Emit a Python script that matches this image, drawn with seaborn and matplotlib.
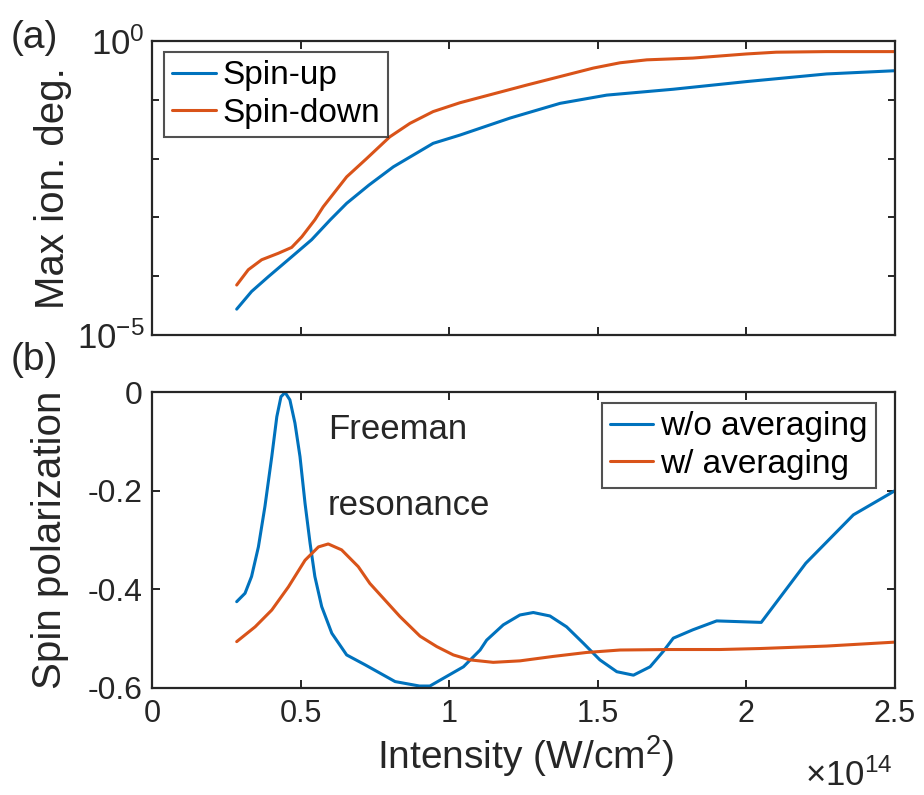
import numpy as np
import pandas as pd
import matplotlib
matplotlib.use("Agg")
import matplotlib.pyplot as plt
import seaborn as sns

# ---- data (intensity in units of 1e14 W/cm^2) ----
up_x = [0.285, 0.335, 0.391, 0.47, 0.537, 0.60, 0.655, 0.73, 0.812, 0.946, 1.036, 1.205,
        1.373, 1.53, 1.754, 2.0, 2.27, 2.5]
up_log = [-4.56, -4.26, -4.01, -3.67, -3.38, -3.04, -2.76, -2.45, -2.14, -1.74, -1.60, -1.31,
          -1.06, -0.92, -0.82, -0.69, -0.56, -0.505]

down_x = [0.285, 0.324, 0.369, 0.425, 0.47, 0.504, 0.548, 0.576, 0.655, 0.722, 0.80, 0.868,
          0.946, 1.036, 1.26, 1.485, 1.575, 1.665, 1.82, 2.0, 2.10, 2.27, 2.5]
down_log = [-4.15, -3.89, -3.72, -3.61, -3.51, -3.33, -3.04, -2.82, -2.31, -2.0, -1.63, -1.40,
            -1.20, -1.05, -0.75, -0.46, -0.37, -0.32, -0.29, -0.22, -0.19, -0.18, -0.18]

wo_x = [0.285, 0.313, 0.335, 0.358, 0.380, 0.403, 0.42, 0.434, 0.448, 0.464, 0.481, 0.498,
        0.515, 0.532, 0.548, 0.571, 0.605, 0.655, 0.717, 0.818, 0.90, 0.935, 0.99, 1.048,
        1.104, 1.126, 1.182, 1.238, 1.283, 1.339, 1.395, 1.451, 1.507, 1.564, 1.62, 1.676,
        1.72, 1.754, 1.82, 1.90, 2.05, 2.20, 2.36, 2.5]
wo_y = [-0.425, -0.408, -0.374, -0.314, -0.232, -0.131, -0.05, -0.0095, -0.001, -0.016,
        -0.063, -0.131, -0.226, -0.307, -0.374, -0.435, -0.489, -0.533, -0.553, -0.587,
        -0.596, -0.596, -0.577, -0.557, -0.523, -0.503, -0.472, -0.452, -0.447, -0.454,
        -0.476, -0.509, -0.543, -0.567, -0.574, -0.557, -0.526, -0.499, -0.482, -0.464,
        -0.467, -0.347, -0.249, -0.200]

w_x = [0.285, 0.347, 0.403, 0.459, 0.515, 0.56, 0.593, 0.638, 0.694, 0.733, 0.834, 0.902,
       0.958, 1.014, 1.07, 1.148, 1.238, 1.35, 1.462, 1.575, 1.743, 1.91, 2.046, 2.27, 2.5]
w_y = [-0.506, -0.476, -0.442, -0.395, -0.341, -0.314, -0.308, -0.320, -0.354, -0.388,
       -0.455, -0.495, -0.516, -0.533, -0.543, -0.548, -0.545, -0.536, -0.528, -0.523,
       -0.522, -0.522, -0.520, -0.515, -0.507]

top_labels = ["Spin-up", "Spin-down"]
bot_labels = ["w/o averaging", "w/ averaging"]
xticks = [0, 0.5, 1, 1.5, 2, 2.5]
xticklabels = ["0", "0.5", "1", "1.5", "2", "2.5"]
bot_yticks = [-0.6, -0.4, -0.2, 0]
bot_yticklabels = ["-0.6", "-0.4", "-0.2", "0"]

sns.set_theme(style="white")
plt.rcParams["font.family"] = ["Liberation Sans", "DejaVu Sans"]
plt.rcParams["axes.unicode_minus"] = False
plt.rcParams["mathtext.fontset"] = "custom"
plt.rcParams["mathtext.rm"] = "Liberation Sans"
plt.rcParams["mathtext.it"] = "Liberation Sans"

blue = "#0072BD"
orange = "#D95319"
edge = "#262626"

fig = plt.figure(figsize=(9.24, 7.95), dpi=100)
ax1 = fig.add_axes([0.1645, 0.5786, 0.8041, 0.3698])
ax2 = fig.add_axes([0.1645, 0.1346, 0.8041, 0.3723])

df_top = pd.concat([
    pd.DataFrame({"I": up_x, "v": 10.0 ** np.array(up_log), "s": top_labels[0]}),
    pd.DataFrame({"I": down_x, "v": 10.0 ** np.array(down_log), "s": top_labels[1]}),
])
df_bot = pd.concat([
    pd.DataFrame({"I": wo_x, "v": wo_y, "s": bot_labels[0]}),
    pd.DataFrame({"I": w_x, "v": w_y, "s": bot_labels[1]}),
])

sns.lineplot(data=df_top, x="I", y="v", hue="s", palette=[blue, orange], ax=ax1,
             linewidth=2.2, sort=False, estimator=None)
sns.lineplot(data=df_bot, x="I", y="v", hue="s", palette=[blue, orange], ax=ax2,
             linewidth=2.2, sort=False, estimator=None)

for ax in (ax1, ax2):
    ax.set_xlim(0, 2.5)
    ax.set_xticks(xticks)
    for sp in ax.spines.values():
        sp.set_color(edge)
        sp.set_linewidth(1.6)
    ax.tick_params(which="both", direction="in", top=True, right=True, left=True,
                   bottom=True, color=edge, width=1.4, labelsize=23,
                   labelcolor="#262626")
    ax.tick_params(which="major", length=6)
    ax.tick_params(which="minor", length=5)
    ax.tick_params(axis="x", pad=8, labelsize=22)
    ax.tick_params(axis="y", pad=7)
    ax.set_xlabel("")

# top panel
ax1.set_yscale("log")
ax1.set_ylim(1e-5, 1e0)
ax1.set_yticks([1e-5, 1e0])
ax1.set_yticklabels(["$10^{-5}$", "$10^{0}$"])
ax1.set_yticks([1e-4, 1e-3, 1e-2, 1e-1], minor=True)
ax1.set_yticklabels([], minor=True)
ax1.tick_params(axis="y", which="major", labelsize=25, pad=5)
ax1.set_xticklabels([])
ax1.set_ylabel("Max ion. deg.", fontsize=29, color="#262626")
ax1.yaxis.set_label_coords(-0.108, 0.5)
leg1 = ax1.legend(loc="upper left", fontsize=24, frameon=True, fancybox=False,
                  edgecolor=edge, handlelength=1.3, handletextpad=0.2,
                  borderpad=0.25, labelspacing=0.2, borderaxespad=0,
                  bbox_to_anchor=(0.016, 0.963))
leg1.get_frame().set_linewidth(1.5)
for t in leg1.get_texts():
    t.set_color("black")

# bottom panel
ax2.set_ylim(-0.6, 0)
ax2.set_yticks(bot_yticks)
ax2.set_yticklabels(bot_yticklabels)
ax2.set_xticklabels(xticklabels)
ax2.set_ylabel("Spin polarization", fontsize=29, color="#262626")
ax2.yaxis.set_label_coords(-0.112, 0.5)
ax2.set_xlabel("Intensity (W/cm$^{2}$)", fontsize=28, color="#262626")
ax2.xaxis.set_label_coords(0.503, -0.152)
leg2 = ax2.legend(loc="upper right", fontsize=24, frameon=True, fancybox=False,
                  edgecolor=edge, handlelength=1.3, handletextpad=0.2,
                  borderpad=0.25, labelspacing=0.2, borderaxespad=0,
                  bbox_to_anchor=(0.974, 0.963))
leg2.get_frame().set_linewidth(1.5)
for t in leg2.get_texts():
    t.set_color("black")

ax2.text(0.237, 0.872, "Freeman", transform=ax2.transAxes, fontsize=25, ha="left", va="center")
ax2.text(0.237, 0.618, "resonance", transform=ax2.transAxes, fontsize=25, ha="left", va="center")
fig.text(0.966, 0.024, r"$\times10^{14}$", fontsize=25, ha="right", va="center", color="#262626")

fig.text(0.011, 0.952, "(a)", fontsize=28, ha="left", va="center")
fig.text(0.011, 0.547, "(b)", fontsize=28, ha="left", va="center")

fig.savefig("out.png", dpi=100)
